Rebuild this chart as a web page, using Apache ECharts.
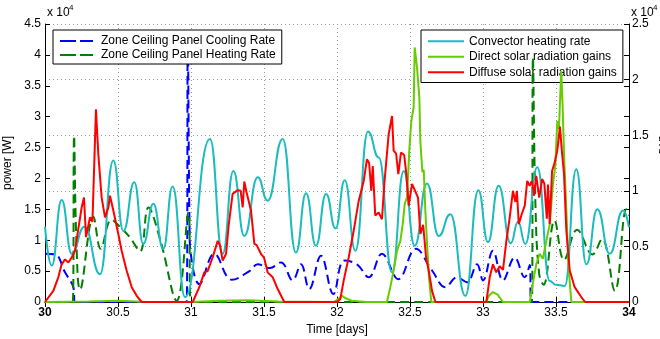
<!DOCTYPE html>
<html>
<head>
<meta charset="utf-8">
<script src="https://cdn.jsdelivr.net/npm/echarts@6.0.0/dist/echarts.min.js"></script>
<style>
  html, body { margin: 0; padding: 0; background: #fff; }
  #chart { width: 660px; height: 339px; }
</style>
</head>
<body>
<div id="chart"></div>
<script>
// time in days, power in units of 1e4 W (left axis scale)
const xTickLabels = ["30", "30.5", "31", "31.5", "32", "32.5", "33", "33.5", "34"];
const leftTickLabels = ["0", "0.5", "1", "1.5", "2", "2.5", "3", "3.5", "4", "4.5"];
const rightTickLabels = ["0", "0.5", "1", "1.5", "2", "2.5"];

const coolingRate = [
  [30.0, 0.78], [30.07, 0.77], [30.137, 0.48], [30.194, 0.24], [30.205, 0], [30.97, 0],
  [30.978, 4.3], [30.99, 1.2], [31.0, 0.75], [31.057, 0.29], [31.16, 0.78], [31.28, 0.36],
  [31.4, 0.5], [31.457, 0.61], [31.54, 0.55], [31.616, 0.64], [31.696, 0.35], [31.753, 0.61],
  [31.81, 0.21], [31.89, 0.75], [31.975, 0.13], [32.05, 0.67], [32.137, 0.61], [32.217, 0.4],
  [32.308, 0.78], [32.42, 0.37], [32.54, 0.86], [32.651, 0.51], [32.742, 0.24], [32.822, 0.4],
  [32.89, 0.32], [32.959, 0.61], [33.0, 0.35], [33.068, 0.83], [33.137, 0.35], [33.217, 0.72],
  [33.286, 0.4], [33.32, 0.6], [33.33, 0], [34.0, 0]
];

const heatingRate = [
  [30.0, 0], [30.19, 0], [30.199, 2.69], [30.215, 1.0], [30.24, 0.2], [30.331, 1.38],
  [30.382, 0.86], [30.455, 1.33], [30.52, 1.2], [30.58, 1.05], [30.651, 0.82], [30.708, 1.53],
  [30.79, 1.0], [30.902, 0.02], [30.982, 1.45], [31.0, 0], [33.335, 0], [33.342, 3.96],
  [33.36, 1.5], [33.385, 0.45], [33.415, 0.28], [33.49, 1.32], [33.555, 0.68], [33.645, 1.17],
  [33.75, 0.77], [33.815, 1.02], [33.903, 0.18], [33.982, 1.5], [34.0, 1.4]
];

const convectorRate = [
  [30.0, 1.22], [30.046, 0.59], [30.114, 1.65], [30.183, 0.78], [30.27, 1.22], [30.377, 0.45],
  [30.468, 2.29], [30.537, 1.15], [30.612, 1.94], [30.673, 0.94], [30.742, 1.59], [30.81, 0.86],
  [30.874, 1.87], [30.959, 0.08], [31.13, 2.64], [31.217, 0.78], [31.29, 2.12], [31.365, 1.07],
  [31.457, 2.02], [31.525, 1.64], [31.628, 2.64], [31.719, 0.8], [31.788, 1.76], [31.856, 0.91],
  [31.925, 1.75], [31.99, 1.19], [32.053, 1.97], [32.126, 0.83], [32.212, 2.76], [32.286, 2.34],
  [32.377, 0.48], [32.457, 2.12], [32.532, 0.91], [32.616, 1.92], [32.697, 1.07], [32.776, 1.42],
  [32.879, 0.1], [32.968, 1.81], [33.034, 0.97], [33.107, 1.88], [33.19, 0.95], [33.24, 1.3],
  [33.29, 0.94], [33.372, 2.18], [33.457, 0.34], [33.5, 0.28], [33.56, 0.26], [33.639, 2.15],
  [33.708, 0.61], [33.783, 1.5], [33.868, 0.78], [33.959, 1.48], [34.0, 1.21]
];

const directSolar = [
  [30.0, 0], [30.3, 0.01], [30.5, 0.02], [30.7, 0], [31.0, 0], [31.2, 0.02], [31.4, 0.03],
  [31.6, 0.01], [31.98, 0], [32.01, 0.05], [32.034, 0.1], [32.06, 0.06], [32.1, 0.02], [32.2, 0],
  [32.342, 0], [32.365, 0.24], [32.388, 0.51], [32.411, 0.83], [32.434, 0.99], [32.45, 1.26],
  [32.464, 1.59], [32.48, 1.7], [32.495, 2.45], [32.509, 2.93], [32.525, 3.15], [32.532, 4.12],
  [32.548, 3.8], [32.564, 3.31], [32.571, 2.6], [32.585, 2.1], [32.594, 2.14], [32.605, 1.48],
  [32.617, 0.93], [32.63, 0.4], [32.646, 0], [33.02, 0], [33.04, 0.1], [33.068, 0.16],
  [33.1, 0.12], [33.137, 0], [33.32, 0], [33.345, 0.35], [33.365, 0.61], [33.388, 0.78],
  [33.41, 0.7], [33.434, 0.99], [33.457, 1.26], [33.479, 1.91], [33.495, 2.2], [33.509, 2.93],
  [33.52, 2.8], [33.536, 3.74], [33.545, 3.2], [33.555, 2.39], [33.571, 1.48], [33.585, 0.6],
  [33.605, 0], [34.0, 0]
];

const diffuseSolar = [
  [30.0, 0], [30.057, 0.18], [30.091, 0.4], [30.114, 0.61], [30.137, 0.69], [30.16, 0.64],
  [30.183, 0.72], [30.205, 0.83], [30.228, 1.18], [30.251, 1.53], [30.267, 1.69], [30.281, 1.05],
  [30.308, 1.37], [30.325, 1.3], [30.349, 3.12], [30.365, 2.4], [30.388, 1.69], [30.411, 1.37],
  [30.434, 1.53], [30.445, 1.72], [30.468, 1.48], [30.502, 1.1], [30.525, 0.83], [30.559, 0.51],
  [30.594, 0.24], [30.628, 0.1], [30.662, 0], [31.012, 0], [31.057, 0.24], [31.091, 0.48],
  [31.114, 0.5], [31.148, 0.72], [31.183, 0.99], [31.199, 0.91], [31.217, 0.67], [31.24, 0.78],
  [31.258, 1.24], [31.285, 1.75], [31.32, 1.81], [31.34, 1.8], [31.354, 1.53], [31.365, 1.95],
  [31.38, 1.78], [31.411, 1.48], [31.434, 0.94], [31.45, 0.92], [31.479, 0.78], [31.5, 0.72],
  [31.525, 0.48], [31.56, 0.4], [31.594, 0.21], [31.639, 0], [32.0, 0], [32.023, 0.05],
  [32.046, 0.35], [32.08, 0.72], [32.114, 1.15], [32.149, 1.64], [32.183, 1.96], [32.205, 2.31],
  [32.22, 2.25], [32.235, 1.8], [32.245, 2.2], [32.262, 1.4], [32.285, 1.45], [32.308, 1.34],
  [32.324, 1.91], [32.354, 2.72], [32.377, 3.01], [32.388, 2.45], [32.405, 2.4], [32.42, 2.07],
  [32.438, 2.42], [32.46, 2.38], [32.475, 2.07], [32.491, 1.56], [32.514, 1.91], [32.535, 1.8],
  [32.555, 1.69], [32.571, 1.1], [32.59, 1.25], [32.61, 0.72], [32.628, 0.51], [32.651, 0.18],
  [32.674, 0], [33.023, 0], [33.046, 0.4], [33.068, 0.61], [33.091, 0.48], [33.114, 0.58],
  [33.137, 0.52], [33.16, 0.99], [33.183, 1.37], [33.205, 1.8], [33.222, 1.62], [33.232, 1.8],
  [33.245, 1.26], [33.265, 1.42], [33.286, 1.56], [33.303, 1.96], [33.32, 1.88], [33.335, 1.96],
  [33.35, 1.72], [33.365, 2.04], [33.385, 1.69], [33.405, 1.99], [33.42, 1.92], [33.437, 1.35],
  [33.445, 1.9], [33.457, 1.26], [33.473, 2.12], [33.49, 2.25], [33.509, 2.45], [33.527, 2.84],
  [33.54, 2.45], [33.555, 2.07], [33.571, 1.15], [33.594, 0.51], [33.628, 0.24], [33.673, 0.08],
  [33.7, 0], [34.0, 0]
];

const FONT = "Liberation Sans";
const SOLID_ICON = "path://M0,0H36V2H0Z";
const DASH_ICON = "path://M0,0H16V2H0Z M20,0H33V2H20Z";

const chart = echarts.init(document.getElementById("chart"));

function line(name, data, color, extra) {
  return Object.assign({
    name: name,
    type: "line",
    data: data,
    symbol: "none",
    showSymbol: false,
    animation: false,
    lineStyle: { color: color, width: 2 },
    itemStyle: { color: color }
  }, extra);
}

const tickStyle = { show: true, inside: true, length: 5, lineStyle: { color: "#000" } };
const dotted = { show: true, lineStyle: { color: "#999", type: [1, 3], width: 1 } };

chart.setOption({
  backgroundColor: "#fff",
  animation: false,
  textStyle: { fontFamily: FONT },
  grid: { left: 45, right: 31, top: 24, bottom: 37, outerBoundsMode: "none", containLabel: false },
  legend: [
    {
      data: [
        { name: "Zone Ceiling Panel Cooling Rate", icon: DASH_ICON },
        { name: "Zone Ceiling Panel Heating Rate", icon: DASH_ICON }
      ],
      left: 53, top: 30, orient: "vertical", z: 4,
      itemWidth: 33, itemHeight: 2, itemGap: 0,
      padding: [4, 6, 2, 7],
      borderColor: "#000", borderWidth: 1, backgroundColor: "#fff",
      selectedMode: false,
      textStyle: { fontSize: 12, color: "#000", fontFamily: FONT, padding: [0, 0, 0, 3], lineHeight: 14 }
    },
    {
      data: [
        { name: "Convector heating rate", icon: SOLID_ICON },
        { name: "Direct solar radiation gains", icon: SOLID_ICON },
        { name: "Diffuse solar radiation gains", icon: SOLID_ICON }
      ],
      left: 421, top: 30, orient: "vertical", z: 1,
      itemWidth: 36, itemHeight: 2, itemGap: 1,
      padding: [4, 6, 3, 7],
      borderColor: "#000", borderWidth: 1, backgroundColor: "#fff",
      selectedMode: false,
      textStyle: { fontSize: 12, color: "#000", fontFamily: FONT, lineHeight: 14.5 }
    }
  ],
  xAxis: [
    {
      type: "value", min: 30, max: 34, interval: 0.5,
      name: "Time [days]", nameLocation: "middle", nameGap: 20,
      nameTextStyle: { fontSize: 12, color: "#000", fontFamily: FONT },
      axisLine: { lineStyle: { color: "#000" } },
      axisTick: tickStyle,
      axisLabel: {
        color: "#000", fontSize: 12, margin: 5, fontFamily: FONT,
        formatter: v => {
          const i = Math.round((v - 30) / 0.5);
          const s = xTickLabels[i];
          return (i === 0 || i === xTickLabels.length - 1) ? "{b|" + s + "}" : s;
        },
        rich: { b: { fontWeight: "bold", fontSize: 12, fontFamily: FONT, color: "#000" } }
      },
      splitLine: dotted
    },
    {
      type: "value", min: 30, max: 34, interval: 0.5, position: "top",
      axisLine: { lineStyle: { color: "#000" } },
      axisTick: tickStyle, axisLabel: { show: false }, splitLine: { show: false }
    }
  ],
  yAxis: [
    {
      type: "value", min: 0, max: 4.5, interval: 0.5, position: "left",
      name: "power [W]", nameLocation: "middle", nameGap: 26,
      nameTextStyle: { fontSize: 12, color: "#000", fontFamily: FONT },
      axisLine: { show: true, lineStyle: { color: "#000" } },
      axisTick: tickStyle,
      axisLabel: {
        color: "#000", fontSize: 12, margin: 4, fontFamily: FONT,
        formatter: v => leftTickLabels[Math.round(v / 0.5)]
      },
      splitLine: { show: false }
    },
    {
      type: "value", min: 0, max: 2.5, interval: 0.5, position: "right",
      axisLine: { show: true, lineStyle: { color: "#000" } },
      axisTick: tickStyle,
      axisLabel: {
        color: "#000", fontSize: 12, margin: 3, fontFamily: FONT,
        formatter: v => rightTickLabels[Math.round(v / 0.5)]
      },
      splitLine: dotted
    },
    {
      type: "value", min: 0, max: 4.5, interval: 0.5, position: "right",
      axisLine: { show: false }, axisTick: tickStyle,
      axisLabel: { show: false }, splitLine: { show: false }
    }
  ],
  graphic: [
    { type: "text", left: 47, top: 7, style: { text: "x 10", fontSize: 12, fontFamily: FONT, fill: "#000" } },
    { type: "text", left: 69, top: 4, style: { text: "4", fontSize: 8, fontFamily: FONT, fill: "#000" } },
    { type: "text", left: 631, top: 7, style: { text: "x 10", fontSize: 12, fontFamily: FONT, fill: "#000" } },
    { type: "text", left: 653, top: 4, style: { text: "4", fontSize: 8, fontFamily: FONT, fill: "#000" } },
    // right axis title, mostly outside the frame as in the original
    {
      type: "text", x: 665, y: 163, rotation: Math.PI / 2,
      style: { text: "power [W]", fontSize: 12, fontFamily: FONT, fill: "#000", align: "center", verticalAlign: "middle" }
    }
  ],
  series: [
    line("Zone Ceiling Panel Cooling Rate", coolingRate, "#0000ff",
      { smooth: 0.4, lineStyle: { color: "#0000ff", width: 2, type: [9, 5] } }),
    line("Zone Ceiling Panel Heating Rate", heatingRate, "#007f00",
      { smooth: 0.4, lineStyle: { color: "#007f00", width: 2, type: [9, 5] } }),
    line("Convector heating rate", convectorRate, "#1cbcbc", { smooth: 0.5, smoothMonotone: "x" }),
    line("Direct solar radiation gains", directSolar, "#66cc00"),
    line("Diffuse solar radiation gains", diffuseSolar, "#ff0000")
  ]
});
</script>
</body>
</html>
